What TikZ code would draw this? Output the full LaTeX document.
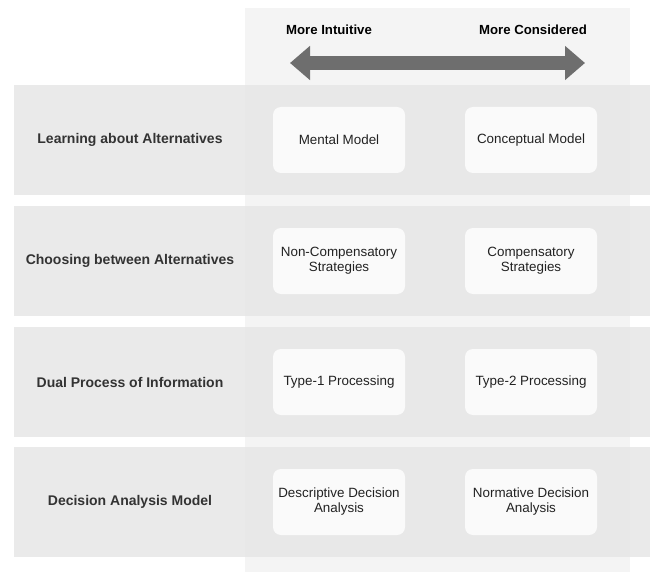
\documentclass[tikz,border=0pt]{standalone}
\usepackage{fontspec}
\setmainfont{Liberation Sans}
\usetikzlibrary{arrows.meta}
\definecolor{colbg}{HTML}{F4F4F4}
\definecolor{rowbg}{HTML}{E8E8E8}
\definecolor{cellbg}{HTML}{FAFAFA}
\definecolor{arrowgrey}{HTML}{6E6E6E}
\definecolor{labeltext}{HTML}{333333}
\definecolor{celltext}{HTML}{222222}
\tikzset{
  rowband/.style={fill=rowbg, draw=none, opacity=0.92},
  rowlabel/.style={font=\fontsize{14}{16}\selectfont\bfseries, text=labeltext},
  cell/.style={fill=cellbg, draw=none, rounded corners=8pt, minimum width=132pt,
    minimum height=66pt, align=center, text=celltext,
    font=\fontsize{13.4}{15}\selectfont},
  headlabel/.style={font=\fontsize{13.2}{15}\selectfont\bfseries, text=black},
}
\begin{document}
\begin{tikzpicture}[x=1pt,y=-1pt]
  \useasboundingbox (0,0) rectangle (650,572);
  % column behind the cells
  \fill[colbg] (245,8) rectangle (630,572);
  % header
  \node[headlabel] (hl) at (329,30) {More Intuitive};
  \node[headlabel] (hr) at (533,30) {More Considered};
  \coordinate (al) at (290,63);
  \coordinate (ar) at (585,63);
  \draw[arrowgrey, line width=14pt,
    {Triangle[length=20pt,width=33pt]}-{Triangle[length=20pt,width=33pt]}]
    (al) -- (ar);
  % rows
  \foreach \y/\lab/\a/\b [count=\i] in {
      85/{Learning about Alternatives}/{Mental Model}/{Conceptual Model},
      206/{Choosing between Alternatives}/{Non-Compensatory\\Strategies}/{Compensatory\\Strategies},
      327/{Dual Process of Information}/{Type-1 Processing}/{Type-2 Processing},
      447/{Decision Analysis Model}/{Descriptive Decision\\Analysis}/{Normative Decision\\Analysis}} {
    \fill[rowband] (14,\y) rectangle (650,\y+110);
    \node[rowlabel] (row\i) at (130,\y+55) {\lab};
    \node[cell] (l\i) at (339,\y+55) {\a};
    \node[cell] (r\i) at (531,\y+55) {\b};
  }
\end{tikzpicture}
\end{document}
